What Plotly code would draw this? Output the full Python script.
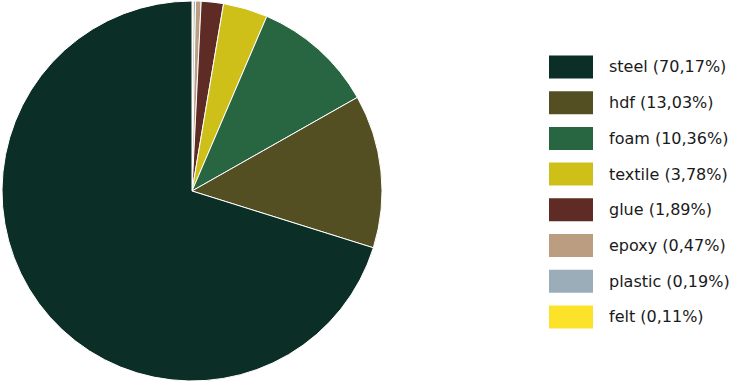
import plotly.graph_objects as go

labels = ["steel", "hdf", "foam", "textile", "glue", "epoxy", "plastic", "felt"]
values = [70.17, 13.03, 10.36, 3.78, 1.89, 0.47, 0.19, 0.11]
legend_text = ["steel (70,17%)", "hdf (13,03%)", "foam (10,36%)", "textile (3,78%)",
               "glue (1,89%)", "epoxy (0,47%)", "plastic (0,19%)", "felt (0,11%)"]
colors = ["#0b2e26", "#544f23", "#276640", "#cfbf19", "#5e2b25", "#bb9e82", "#9aadb8", "#fde22a"]

W, H = 741, 384

# drawn clockwise from 12 o'clock, smallest slices first (as in the reference)
fig = go.Figure(go.Pie(
    labels=labels[::-1], values=values[::-1], sort=False, direction="clockwise", rotation=0,
    marker=dict(colors=colors[::-1], line=dict(color="white", width=1)),
    textinfo="none", hoverinfo="label+percent", showlegend=False,
    domain=dict(x=[2 / W, 382 / W], y=[3 / H, 383 / H]),
))

# custom legend with large swatches
y0, dy = 67, 35.7
sw_x0, sw_x1, sw_h = 549, 593, 23
for i, (t, c) in enumerate(zip(legend_text, colors)):
    yc = y0 + i * dy
    fig.add_shape(type="rect", xref="paper", yref="paper",
                  x0=sw_x0 / W, x1=sw_x1 / W,
                  y0=1 - (yc + sw_h / 2) / H, y1=1 - (yc - sw_h / 2) / H,
                  fillcolor=c, line=dict(width=0))
    fig.add_annotation(x=607 / W, y=1 - yc / H, xref="paper", yref="paper",
                       text=t, showarrow=False, xanchor="left", yanchor="middle",
                       font=dict(family="DejaVu Sans, sans-serif", size=16, color="#1a1a1a"))

fig.update_layout(width=W, height=H, margin=dict(l=0, r=0, t=0, b=0),
                  paper_bgcolor="white", plot_bgcolor="white")
fig.write_html("out.html")
